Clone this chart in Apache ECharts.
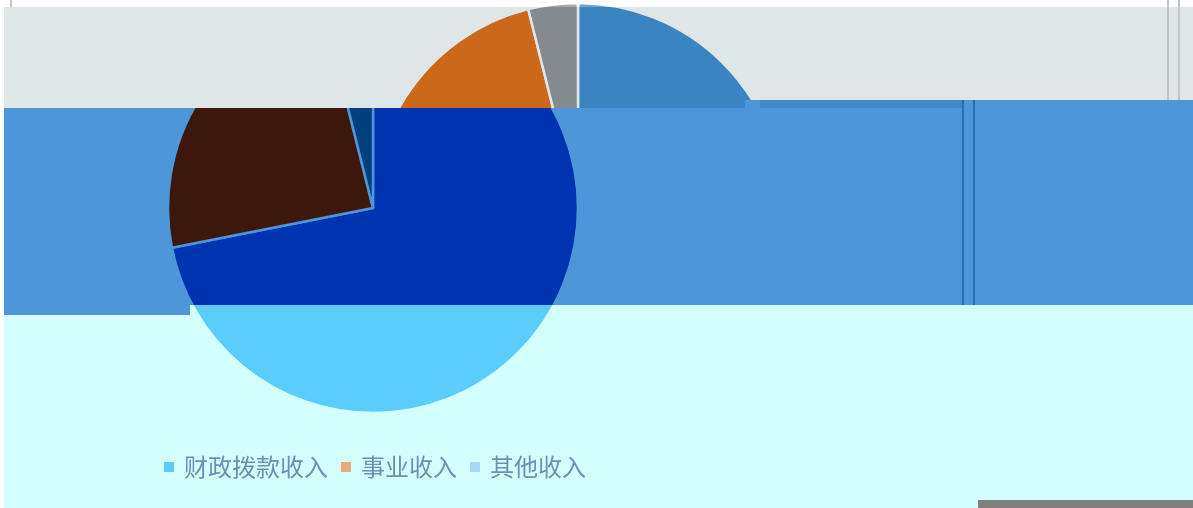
<!DOCTYPE html>
<html><head><meta charset="utf-8">
<script src="https://cdn.jsdelivr.net/npm/echarts/dist/echarts.min.js"></script>
<style>
html,body{margin:0;padding:0;background:#fff;width:1193px;height:508px;overflow:hidden;position:relative;}
.clip{position:absolute;overflow:hidden;}
.inner{position:absolute;width:1193px;height:508px;}
.deco{position:absolute;}
</style></head><body>
<script>
// ---- data ----
const categories = ['财政拨款收入', '事业收入', '其他收入'];
const values = [71.9, 24.2, 3.9];

// ---- layout / style of the strips ----
const strips = [
  {x:4, y:0,   w:1189, h:7,   bg:'#ffffff', colors:['#6aa8e2','#e09a60','#a9acad'], cx:578},
  {x:4, y:7,   w:1189, h:101, bg:'#dfe6e8', colors:['#3a84c2','#cc6819','#838b8e'], cx:578},
  {x:4, y:305, w:1189, h:203, bg:'#d4ffff', colors:['#5bcdfc','#e8aa7e','#a8d6f7'], cx:373, legend:true},
  {x:4, y:108, w:1189, h:197, bg:'#4d96d9', colors:['#0033b0','#3d160c','#00407f'], cx:373},
  {x:745, y:100, w:448, h:8,  bg:'#4d96d9', colors:['#0033b0','#3d160c','#00407f'], cx:373},
  {x:4, y:305, w:186, h:10,   bg:'#4d96d9', colors:['#0033b0','#3d160c','#00407f'], cx:373}
];

strips.forEach(s => {
  const clip = document.createElement('div');
  clip.className = 'clip';
  clip.style.left = s.x + 'px'; clip.style.top = s.y + 'px';
  clip.style.width = s.w + 'px'; clip.style.height = s.h + 'px';
  const inner = document.createElement('div');
  inner.className = 'inner';
  inner.style.left = (-s.x) + 'px'; inner.style.top = (-s.y) + 'px';
  clip.appendChild(inner);
  document.body.appendChild(clip);
  const chart = echarts.init(inner, null, {renderer:'canvas', width:1193, height:508});
  const opt = {
    animation: false,
    backgroundColor: s.bg,
    color: s.colors,
    legend: {
      show: !!s.legend,
      data: categories,
      left: 157, top: 450,
      icon: 'rect', itemWidth: 12, itemHeight: 12, itemGap: 11,
      textStyle: {fontSize: 24, color: '#6b8fb5', fontFamily: 'Noto Sans CJK SC', padding:[0,0,0,4]}
    },
    series: [{
      type: 'pie',
      center: [s.cx, 208],
      radius: 205,
      startAngle: 90,
      clockwise: true,
      label: {show: false},
      labelLine: {show: false},
      itemStyle: {borderColor: s.bg, borderWidth: 2.5},
      data: categories.map((c, i) => ({name: c, value: values[i]}))
    }]
  };
  chart.setOption(opt);
});

// decorative artifacts
const decos = [
  {x:760, y:100, w:202, h:8, c:'#3f88cc'},
  {x:962, y:100, w:2, h:205, c:'#2a6fb5'},
  {x:973, y:100, w:2, h:205, c:'#2a6fb5'},
  {x:1167, y:0, w:2, h:100, c:'#c0c4c6'},
  {x:1178, y:0, w:2, h:100, c:'#c0c4c6'},
  {x:10, y:0, w:2, h:7, c:'#c8c8c8'},
  {x:978, y:500, w:215, h:8, c:'#808080'}
];
decos.forEach(d => {
  const e = document.createElement('div');
  e.className = 'deco';
  e.style.left = d.x + 'px'; e.style.top = d.y + 'px';
  e.style.width = d.w + 'px'; e.style.height = d.h + 'px';
  e.style.background = d.c;
  document.body.appendChild(e);
});
</script>
</body></html>
